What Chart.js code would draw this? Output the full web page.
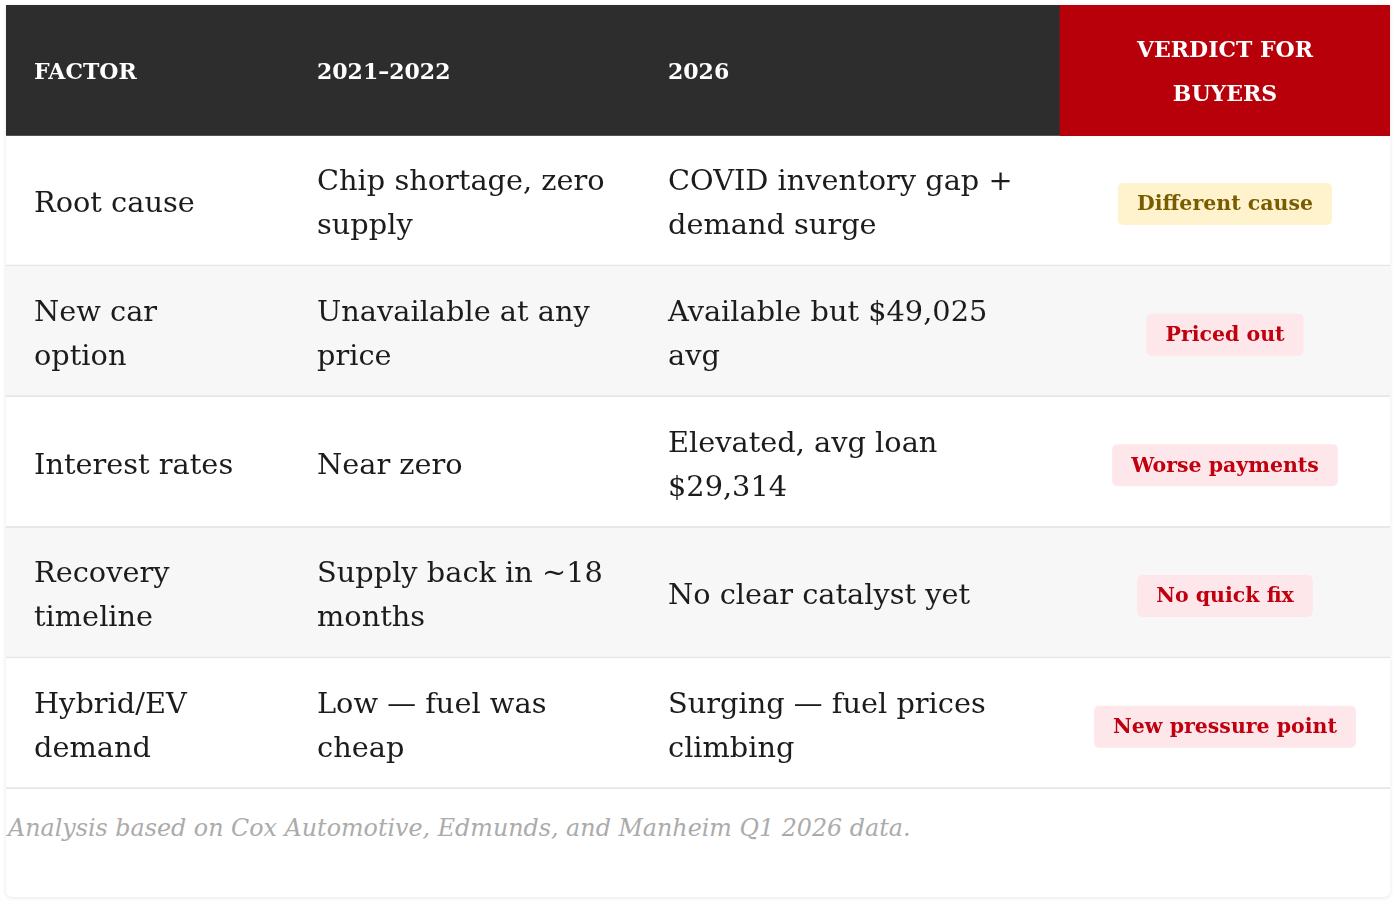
<!DOCTYPE html>
<html>
<head>
<meta charset="utf-8">
<title>2021–2022 vs 2026</title>
<script src="https://cdn.jsdelivr.net/npm/chart.js@4.4.1/dist/chart.umd.min.js"></script>
<style>
  html, body { margin: 0; padding: 0; background: #ffffff; }
  body { width: 1396px; height: 906px; position: relative; overflow: hidden; }
  .card {
    position: absolute; left: 6px; top: 5px; width: 1384px; height: 892px;
    background: #ffffff; border-radius: 0 0 6px 6px;
    box-shadow: 0 1px 4px rgba(0, 0, 0, 0.10);
  }
  .table-wrap { position: absolute; left: 0; top: 0; width: 1384px; height: 784px; }
  .note {
    position: absolute; left: 2px; top: 809px;
    font: italic 23.8px "DejaVu Serif", serif; color: #ababab; white-space: nowrap;
  }
</style>
</head>
<body>
<div class="card">
  <div class="table-wrap"><canvas id="table"></canvas></div>
  <div class="note">Analysis based on Cox Automotive, Edmunds, and Manheim Q1 2026 data.</div>
</div>
<script>
(() => {
  "use strict";

  // ── Table content ─────────────────────────────────────────────────────────
  const HEADERS = ["FACTOR", "2021–2022", "2026", "VERDICT FOR\nBUYERS"];
  const FACTORS = [
    "Root cause",
    "New car\noption",
    "Interest rates",
    "Recovery\ntimeline",
    "Hybrid/EV\ndemand",
  ];
  const THEN = [
    "Chip shortage, zero\nsupply",
    "Unavailable at any\nprice",
    "Near zero",
    "Supply back in ~18\nmonths",
    "Low — fuel was\ncheap",
  ];
  const NOW = [
    "COVID inventory gap +\ndemand surge",
    "Available but $49,025\navg",
    "Elevated, avg loan\n$29,314",
    "No clear catalyst yet",
    "Surging — fuel prices\nclimbing",
  ];
  const VERDICTS = [
    "Different cause",
    "Priced out",
    "Worse payments",
    "No quick fix",
    "New pressure point",
  ];
  const VERDICT_TONE = ["caution", "bad", "bad", "bad", "bad"];

  // ── Layout / style ────────────────────────────────────────────────────────
  const COL_WIDTHS = [283, 351, 420, 330];
  const COL_EDGES = COL_WIDTHS.reduce((acc, w) => [...acc, acc[acc.length - 1] + w], [0]);
  const TOTAL = COL_EDGES[COL_EDGES.length - 1];
  const CELL_PAD = 28;
  const LINE_H = 44;

  const FONT = '"DejaVu Serif", serif';
  const TONES = {
    caution: { bg: "#fff3cd", fg: "#7a5c00" },
    bad: { bg: "#fde7ea", fg: "#c0000f" },
  };

  const ROW_KEYS = ["header", ...FACTORS];

  // ── Cell text plugin ──────────────────────────────────────────────────────
  const cellText = {
    id: "cellText",
    afterDatasetsDraw(chart) {
      const { ctx, scales } = chart;
      const x = scales.x;
      const y = scales.y;

      const drawLines = (text, px, py, align) => {
        const lines = text.split("\n");
        const top = py - ((lines.length - 1) * LINE_H) / 2;
        ctx.textAlign = align;
        lines.forEach((line, k) => ctx.fillText(line, px, top + k * LINE_H));
      };

      ctx.save();
      ctx.textBaseline = "middle";

      // header row
      const hy = y.getPixelForValue(0) + 3;
      ctx.fillStyle = "#ffffff";
      ctx.font = `bold 22px ${FONT}`;
      HEADERS.forEach((h, c) => {
        if (c === HEADERS.length - 1) {
          const cx = x.getPixelForValue((COL_EDGES[c] + COL_EDGES[c + 1]) / 2);
          drawLines(h, cx, hy, "center");
        } else {
          drawLines(h, x.getPixelForValue(COL_EDGES[c] + CELL_PAD), hy, "left");
        }
      });

      // body rows
      FACTORS.forEach((factor, i) => {
        const py = y.getPixelForValue(i + 1) + 4;
        ctx.fillStyle = "#1c1c1c";
        ctx.font = `28.8px ${FONT}`;
        [factor, THEN[i], NOW[i]].forEach((txt, c) => {
          drawLines(txt, x.getPixelForValue(COL_EDGES[c] + CELL_PAD), py, "left");
        });

        // verdict badge
        const tone = TONES[VERDICT_TONE[i]];
        ctx.font = `bold 20.5px ${FONT}`;
        const tw = ctx.measureText(VERDICTS[i]).width;
        const cx = x.getPixelForValue((COL_EDGES[3] + COL_EDGES[4]) / 2);
        const bw = tw + 38;
        const bh = 42;
        ctx.fillStyle = tone.bg;
        ctx.beginPath();
        ctx.roundRect(cx - bw / 2, py - 1 - bh / 2, bw, bh, 5);
        ctx.fill();
        ctx.fillStyle = tone.fg;
        ctx.textAlign = "center";
        ctx.fillText(VERDICTS[i], cx, py);
      });

      ctx.restore();
    },
  };

  // ── Chart.js floating bars as table rows ─────────────────────────────────
  function buildTable() {
    const ctx = document.getElementById("table").getContext("2d");

    new Chart(ctx, {
      type: "bar",
      data: {
        labels: ROW_KEYS,
        datasets: [
          {
            label: "rows",
            data: ROW_KEYS.map(() => [0, TOTAL]),
            backgroundColor: ROW_KEYS.map((_, i) =>
              i === 0 ? "#2d2d2d" : i % 2 === 1 ? "#ffffff" : "#f7f7f7",
            ),
            borderColor: "#e6e6e6",
            borderWidth: (c) =>
              c.dataIndex === 0 ? 0 : { top: 0, right: 0, bottom: 2, left: 0 },
            borderSkipped: false,
            barPercentage: 1,
            categoryPercentage: 1,
            grouped: false,
            order: 2,
          },
          {
            label: "verdict header",
            data: ROW_KEYS.map((_, i) => (i === 0 ? [COL_EDGES[3], TOTAL] : null)),
            backgroundColor: "#b8000b",
            borderWidth: 0,
            barPercentage: 1,
            categoryPercentage: 1,
            grouped: false,
            order: 1,
          },
        ],
      },
      options: {
        indexAxis: "y",
        responsive: true,
        maintainAspectRatio: false,
        animation: false,
        events: [],
        layout: { padding: 0 },
        plugins: {
          legend: { display: false },
          tooltip: { enabled: false },
        },
        scales: {
          x: { type: "linear", min: 0, max: TOTAL, display: false },
          y: { type: "category", display: false },
        },
      },
      plugins: [cellText],
    });
  }

  document.addEventListener("DOMContentLoaded", buildTable);
})();
</script>
</body>
</html>
